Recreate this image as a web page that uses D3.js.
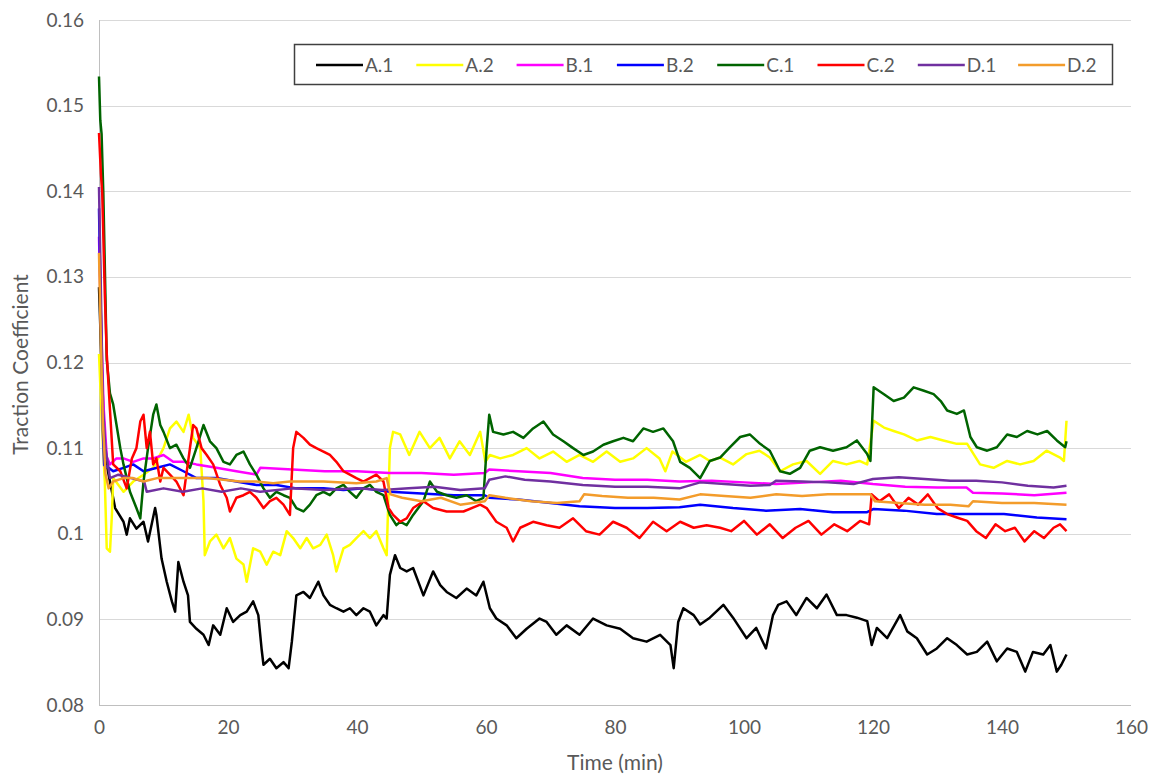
<!DOCTYPE html>
<html>
<head>
<meta charset="utf-8">
<script src="https://cdn.jsdelivr.net/npm/d3@7/dist/d3.min.js"></script>
<style>
  html, body { margin: 0; padding: 0; background: #ffffff; }
  svg text { font-family: Lato, "Open Sans", sans-serif; fill: #595959; }
</style>
</head>
<body>
<svg id="chart" width="1155" height="778"></svg>
<script>
// ---- data: [time (min), traction coefficient] ----
const seriesNames = ["A.1", "A.2", "B.1", "B.2", "C.1", "C.2", "D.1", "D.2"];
const seriesColors = ["#000000", "#ffff00", "#ff00ff", "#0000ff", "#006400", "#ff0000", "#7030a0", "#f39c2b"];

const xTicks = [0, 20, 40, 60, 80, 100, 120, 140, 160];
const yTicks = [0.08, 0.09, 0.10, 0.11, 0.12, 0.13, 0.14, 0.15, 0.16];
const yTickLabels = ["0.08", "0.09", "0.1", "0.11", "0.12", "0.13", "0.14", "0.15", "0.16"];

const A1 = [[0,0.1288],[0.3,0.122],[0.8,0.112],[1.2,0.108],[1.7,0.1061],[2.5,0.1030],[3.8,0.1014],[4.3,0.0999],[4.8,0.1018],[5.8,0.1006],[6.9,0.1014],[7.6,0.0991],[8.7,0.1030],[8.9,0.1022],[9.7,0.0971],[10.5,0.0944],[11.3,0.0921],[11.8,0.0909],[12.3,0.0967],[13.1,0.0944],[13.8,0.0928],[14.1,0.0897],[15.1,0.0889],[16.2,0.0882],[17,0.0870],[17.7,0.0893],[18.8,0.0882],[19.8,0.0913],[20.8,0.0897],[21.9,0.0905],[22.9,0.0909],[23.9,0.0921],[24.7,0.0905],[25.2,0.0866],[25.5,0.0847],[26.5,0.0854],[27.5,0.0843],[28.6,0.0850],[29.4,0.0843],[29.9,0.0874],[30.6,0.0928],[31.7,0.0932],[32.7,0.0925],[34,0.0944],[34.8,0.0928],[35.8,0.0917],[36.8,0.0913],[37.9,0.0909],[38.9,0.0913],[39.9,0.0905],[41,0.0913],[42,0.0909],[43,0.0893],[44.1,0.0905],[44.6,0.0901],[45.1,0.0952],[45.9,0.0975],[46.7,0.0960],[47.7,0.0956],[48.7,0.0960],[50.3,0.0928],[51.8,0.0956],[52.9,0.0940],[53.9,0.0932],[55.4,0.0925],[57,0.0936],[58.5,0.0928],[59.6,0.0944],[60.6,0.0913],[61.6,0.0901],[63.2,0.0893],[64.7,0.0878],[66.3,0.0889],[68.3,0.0901],[69.4,0.0897],[70.9,0.0882],[72.5,0.0893],[74.5,0.0882],[76.6,0.0901],[78.7,0.0893],[80.8,0.0889],[82.8,0.0878],[84.9,0.0874],[87,0.0882],[88.6,0.0870],[89.1,0.0843],[89.8,0.0897],[90.6,0.0913],[92.2,0.0905],[93.2,0.0894],[94.7,0.0902],[96.8,0.0917],[98.3,0.0902],[100.4,0.0878],[101.9,0.0890],[103.4,0.0866],[104.5,0.0905],[105.3,0.0917],[106.6,0.0921],[108.1,0.0905],[109.7,0.0925],[111.3,0.0913],[112.8,0.0929],[114.4,0.0905],[115.9,0.0905],[117.5,0.0902],[119.1,0.0898],[119.8,0.0870],[120.6,0.0890],[122.2,0.0878],[124.2,0.0905],[125.3,0.0886],[126.8,0.0878],[128.4,0.0859],[129.9,0.0866],[131.5,0.0878],[133,0.0870],[134.6,0.0859],[136.1,0.0862],[137.7,0.0874],[139.2,0.0851],[140.8,0.0866],[142.3,0.0862],[143.6,0.0839],[144.8,0.0862],[146.4,0.0859],[147.5,0.0870],[148.5,0.0839],[149.2,0.0847],[150,0.0859]];

const A2 = [[0,0.121],[0.5,0.112],[0.9,0.1061],[1.2,0.0983],[1.7,0.0979],[2.0,0.1022],[2.2,0.1065],[3.8,0.1049],[5.3,0.1061],[6.9,0.1069],[8.4,0.1077],[10,0.1100],[11,0.1123],[12,0.1131],[13.1,0.1119],[13.9,0.1139],[14.6,0.1112],[15.7,0.1100],[16.2,0.1038],[16.4,0.0975],[17.2,0.0991],[18.2,0.0999],[19.3,0.0983],[20.3,0.0995],[21.3,0.0971],[22.4,0.0964],[22.9,0.0944],[23.9,0.0983],[25,0.0979],[26,0.0964],[27,0.0979],[28.1,0.0975],[29.1,0.1003],[30.1,0.0995],[31.2,0.0983],[32.2,0.0995],[33.2,0.0983],[34.3,0.0987],[35.3,0.0999],[36.3,0.0975],[36.8,0.0956],[37.9,0.0983],[38.9,0.0987],[39.9,0.0995],[41,0.1003],[42,0.0995],[43,0.1003],[44.1,0.0983],[44.6,0.0975],[45.1,0.1100],[45.6,0.1119],[46.7,0.1116],[48.1,0.1092],[49.7,0.1119],[51.3,0.1100],[52.8,0.1112],[54.4,0.1088],[55.9,0.1108],[57.5,0.1092],[59.1,0.1119],[59.9,0.1084],[60.6,0.1092],[62.2,0.1088],[64.2,0.1092],[66.3,0.1100],[68.3,0.1088],[70.4,0.1096],[72.5,0.1084],[74.5,0.1092],[76.6,0.1084],[78.7,0.1096],[80.8,0.1084],[82.8,0.1088],[84.9,0.1100],[86.9,0.1088],[87.8,0.1073],[88.9,0.1096],[91,0.1084],[93.2,0.1092],[94.7,0.1085],[96.3,0.1089],[98.3,0.1081],[100.4,0.1093],[102.4,0.1097],[104,0.1089],[105.6,0.1073],[107.6,0.1081],[109.7,0.1085],[111.8,0.1070],[113.8,0.1085],[115.9,0.1081],[117.9,0.1085],[119.1,0.1081],[120.1,0.1132],[121.7,0.1124],[123.2,0.1120],[124.8,0.1116],[126.8,0.1109],[128.9,0.1113],[130.9,0.1109],[133,0.1105],[134.6,0.1105],[136.6,0.1081],[138.7,0.1077],[140.8,0.1085],[142.8,0.1081],[144.9,0.1085],[146.9,0.1097],[149,0.1089],[149.6,0.1085],[150,0.1132]];

const B1 = [[0,0.1347],[0.3,0.125],[0.7,0.115],[1.2,0.109],[1.7,0.1081],[2.7,0.1088],[3.8,0.1088],[5.3,0.1084],[6.9,0.1088],[8.4,0.1088],[10,0.1092],[11.5,0.1084],[13.1,0.1084],[15.1,0.1081],[18.2,0.1077],[21.3,0.1073],[24.4,0.1069],[25,0.1077],[30,0.1075],[35,0.1073],[40,0.1073],[45,0.1071],[50,0.1071],[55,0.1069],[59.8,0.1071],[60.5,0.1075],[65,0.1073],[70,0.1071],[75,0.1065],[80,0.1063],[85,0.1063],[90,0.1061],[95,0.1062],[100,0.1060],[105,0.1058],[110,0.1060],[115,0.1062],[120,0.1058],[125,0.1055],[130,0.1054],[134.5,0.1054],[135.5,0.1048],[140,0.1047],[145,0.1045],[150,0.1048]];

const B2 = [[0,0.138],[0.3,0.125],[0.6,0.112],[0.8,0.108],[1.5,0.1077],[2.2,0.1073],[3.8,0.1077],[5.3,0.1081],[6.9,0.1073],[9,0.1077],[11,0.1081],[13.1,0.1073],[15.1,0.1065],[18.2,0.1065],[21.3,0.1061],[24.4,0.1057],[27.5,0.1057],[30.6,0.1053],[34.8,0.1053],[37.9,0.1051],[41,0.1053],[45.1,0.1049],[50,0.1047],[55,0.1045],[59.8,0.1045],[60.5,0.1042],[65,0.1040],[70,0.1036],[74.5,0.1032],[80,0.1030],[85,0.1030],[90,0.1031],[93.2,0.1034],[98.3,0.1030],[103.4,0.1027],[108.7,0.1029],[113.8,0.1025],[119,0.1025],[120.1,0.1029],[124.8,0.1027],[129.9,0.1023],[135.1,0.1023],[140.3,0.1023],[145.4,0.1019],[150,0.1017]];

const C1 = [[0,0.1534],[0.2,0.1483],[0.4,0.1467],[0.67,0.1398],[1.2,0.1203],[1.7,0.1164],[2.2,0.1151],[3.3,0.1100],[3.8,0.1081],[4.8,0.1049],[5.8,0.1030],[6.4,0.1018],[6.9,0.1061],[7.6,0.1100],[8.4,0.1139],[8.9,0.1151],[9.5,0.1127],[10,0.1119],[11,0.1100],[12,0.1104],[13.1,0.1088],[14.1,0.1077],[15.1,0.1100],[16.2,0.1127],[17.2,0.1108],[18.2,0.1100],[19.3,0.1084],[20.3,0.1081],[21.3,0.1092],[22.4,0.1096],[23.4,0.1081],[24.4,0.1069],[25.5,0.1053],[26.5,0.1042],[27.5,0.1049],[28.6,0.1045],[29.6,0.1042],[30.6,0.1030],[31.7,0.1026],[32.7,0.1034],[33.7,0.1045],[34.8,0.1049],[35.8,0.1045],[36.8,0.1053],[37.9,0.1057],[38.9,0.1049],[39.9,0.1042],[41,0.1053],[42,0.1057],[43,0.1049],[44.1,0.1045],[45.1,0.1022],[46.1,0.1010],[46.7,0.1014],[47.7,0.1010],[48.7,0.1022],[50.3,0.1038],[51.3,0.1061],[52.4,0.1049],[53.9,0.1045],[55.4,0.1042],[57,0.1045],[58.5,0.1038],[59.6,0.1042],[60.1,0.1100],[60.5,0.1139],[61.1,0.1119],[62.7,0.1116],[64.2,0.1119],[65.8,0.1112],[67.3,0.1123],[68.9,0.1131],[70.4,0.1116],[72,0.1108],[73.5,0.1100],[75.1,0.1092],[76.6,0.1096],[78.2,0.1104],[79.7,0.1108],[81.3,0.1112],[82.8,0.1108],[84.4,0.1123],[85.9,0.1119],[87.5,0.1123],[89,0.1108],[90.1,0.1084],[91.6,0.1077],[93.2,0.1065],[94.7,0.1085],[96.3,0.1089],[97.8,0.1101],[99.4,0.1113],[100.9,0.1116],[102.5,0.1105],[104,0.1097],[105.6,0.1073],[107.1,0.1070],[108.7,0.1077],[110.2,0.1097],[111.8,0.1101],[113.8,0.1097],[115.9,0.1101],[117.5,0.1109],[119.1,0.1093],[119.6,0.1085],[120.1,0.1171],[121.7,0.1163],[123.2,0.1155],[124.8,0.1159],[126.3,0.1171],[127.9,0.1167],[129.4,0.1163],[130.5,0.1155],[131.5,0.1144],[133,0.1140],[134.1,0.1144],[135.1,0.1113],[136.1,0.1101],[137.7,0.1097],[139.2,0.1101],[140.8,0.1116],[142.3,0.1113],[143.9,0.1120],[145.5,0.1116],[147,0.1120],[148.5,0.1109],[149.8,0.1101],[150,0.1108]];

const C2 = [[0,0.1468],[0.3,0.1420],[0.5,0.1398],[0.9,0.128],[1.2,0.121],[1.7,0.1145],[2.2,0.1081],[3.3,0.1073],[4.3,0.1053],[5.1,0.1088],[5.8,0.1100],[6.4,0.1131],[6.9,0.1139],[7.4,0.1100],[7.9,0.1119],[8.4,0.1081],[8.9,0.1088],[9.5,0.1061],[10,0.1077],[11,0.1069],[12,0.1061],[13.1,0.1045],[14.1,0.1100],[14.6,0.1127],[15.1,0.1123],[15.9,0.1100],[16.7,0.1092],[17.7,0.1081],[18.8,0.1057],[19.8,0.1042],[20.3,0.1026],[21.3,0.1042],[22.4,0.1045],[23.4,0.1049],[24.4,0.1042],[25.5,0.1030],[26.5,0.1038],[27.5,0.1042],[28.6,0.1034],[29.6,0.1022],[30.1,0.1100],[30.6,0.1119],[31.7,0.1112],[32.7,0.1104],[33.7,0.1100],[34.8,0.1096],[35.8,0.1092],[36.8,0.1084],[37.9,0.1073],[38.9,0.1069],[39.9,0.1065],[41,0.1061],[42,0.1065],[43,0.1069],[44.1,0.1061],[44.9,0.1030],[45.6,0.1022],[46.7,0.1014],[47.7,0.1018],[48.7,0.1030],[50.3,0.1038],[51.8,0.1030],[53.9,0.1026],[56.5,0.1026],[59.1,0.1034],[60.1,0.1030],[61.6,0.1014],[63.2,0.1007],[64.2,0.0991],[65.3,0.1007],[67.3,0.1014],[69.4,0.1010],[71.4,0.1007],[73.5,0.1018],[75.5,0.1003],[77.6,0.0999],[79.7,0.1014],[81.8,0.1007],[83.8,0.0995],[85.9,0.1014],[88,0.1003],[90.1,0.1014],[92.2,0.1007],[94.2,0.1010],[96.3,0.1007],[98,0.1003],[100,0.1015],[102,0.0999],[104,0.1011],[106,0.0995],[108,0.1007],[110,0.1015],[112,0.0999],[114,0.1011],[116,0.1003],[118,0.1015],[119.4,0.1011],[119.8,0.1046],[121,0.1038],[122.5,0.1046],[124,0.1030],[125.5,0.1042],[127,0.1034],[128.5,0.1046],[130,0.1030],[131.5,0.1023],[133,0.1019],[134.6,0.1015],[136,0.1003],[137.5,0.0995],[139,0.1011],[140.5,0.1003],[142,0.1007],[143.5,0.0991],[145,0.1003],[146.5,0.0995],[148,0.1007],[149,0.1011],[150,0.1003]];

const D1 = [[0,0.1405],[0.3,0.128],[0.6,0.115],[1,0.110],[1.7,0.1065],[3,0.1069],[5,0.1065],[7,0.1061],[7.4,0.1049],[10,0.1053],[13,0.1049],[16,0.1053],[19,0.1049],[22,0.1053],[25,0.1049],[30,0.1053],[35,0.1051],[40,0.1053],[44,0.1051],[48,0.1053],[52,0.1055],[56,0.1051],[59.8,0.1053],[60.5,0.1063],[63,0.1067],[66,0.1063],[70,0.1061],[75,0.1057],[80,0.1055],[85,0.1055],[90,0.1053],[93.2,0.1060],[97,0.1058],[101,0.1056],[104,0.1057],[105,0.1062],[109,0.1061],[113,0.1060],[117,0.1058],[120,0.1064],[124,0.1066],[128,0.1064],[132,0.1062],[136,0.1062],[140,0.1060],[144,0.1056],[148,0.1054],[150,0.1056]];

const D2 = [[0,0.1328],[0.3,0.122],[0.6,0.113],[1,0.107],[1.5,0.1053],[2.2,0.1061],[3.8,0.1065],[5.3,0.1065],[6.9,0.1061],[9,0.1065],[11.5,0.1065],[14,0.1065],[16.7,0.1065],[19.3,0.1063],[21.8,0.1061],[24.4,0.1061],[27,0.1059],[29.6,0.1061],[34.8,0.1061],[39.9,0.1059],[43,0.1061],[44.6,0.1065],[45.2,0.1046],[47,0.1042],[50,0.1038],[53,0.1042],[56,0.1034],[59.8,0.1038],[60.5,0.1045],[63,0.1042],[67,0.1038],[71,0.1036],[74.5,0.1038],[75.2,0.1046],[78,0.1044],[82,0.1042],[86,0.1042],[90,0.1040],[93.2,0.1046],[97,0.1044],[101,0.1042],[105,0.1046],[109,0.1044],[113,0.1046],[117,0.1046],[119.6,0.1046],[120.3,0.1038],[124,0.1036],[128,0.1034],[132,0.1034],[134.8,0.1032],[135.5,0.1038],[140,0.1036],[145,0.1036],[150,0.1034]];

const seriesData = [A1, A2, B1, B2, C1, C2, D1, D2];

// ---- layout ----
const svg = d3.select("#chart");
const plotLeft = 99, plotRight = 1131, plotTop = 20, plotBottom = 705;
const x = d3.scaleLinear().domain([0, 160]).range([plotLeft, plotRight]);
const y = d3.scaleLinear().domain([0.08, 0.16]).range([plotBottom, plotTop]);

// gridlines
svg.append("g")
  .selectAll("line").data(yTicks).join("line")
  .attr("x1", plotLeft).attr("x2", plotRight)
  .attr("y1", d => Math.round(y(d)) + 0.5).attr("y2", d => Math.round(y(d)) + 0.5)
  .attr("stroke", d => d === 0.08 ? "#bfbfbf" : "#d9d9d9").attr("stroke-width", 1);
// vertical axis line
svg.append("line")
  .attr("x1", plotLeft + 0.5).attr("x2", plotLeft + 0.5).attr("y1", plotTop).attr("y2", plotBottom)
  .attr("stroke", "#bfbfbf").attr("stroke-width", 1);

// y axis labels
const yAxis = d3.axisLeft(y).tickValues(yTicks).tickSize(0).tickPadding(15)
  .tickFormat((d, i) => yTickLabels[i]);
const gy = svg.append("g").attr("transform", `translate(${plotLeft},0)`).call(yAxis);
gy.select(".domain").remove();
gy.selectAll("text").style("font-size", "19px").attr("fill", "#595959").style("font-family", "Lato, 'Open Sans', sans-serif");

// x axis labels
const xAxis = d3.axisBottom(x).tickValues(xTicks).tickSize(0).tickPadding(16).tickFormat(d3.format("d"));
const gx = svg.append("g").attr("transform", `translate(0,${plotBottom})`).call(xAxis);
gx.select(".domain").remove();
gx.selectAll("text").style("font-size", "19px").attr("fill", "#595959").style("font-family", "Lato, 'Open Sans', sans-serif");

// axis titles
svg.append("text").attr("x", (plotLeft + plotRight) / 2).attr("y", 770)
  .attr("text-anchor", "middle").style("font-size", "21px").text("Time (min)");
svg.append("text")
  .attr("transform", `translate(28,${(plotTop + plotBottom) / 2 + 2}) rotate(-90)`)
  .attr("text-anchor", "middle").style("font-size", "21px").text("Traction Coefficient");

// series lines
const line = d3.line().x(d => x(d[0])).y(d => y(d[1])).curve(d3.curveLinear);
const plot = svg.append("g");
seriesData.forEach((data, i) => {
  plot.append("path").datum(data)
    .attr("fill", "none")
    .attr("stroke", seriesColors[i])
    .attr("stroke-width", 2.5)
    .attr("stroke-linejoin", "round")
    .attr("d", line);
});

// legend
const lg = svg.append("g");
lg.append("rect").attr("x", 294.5).attr("y", 44.5).attr("width", 818).attr("height", 40)
  .attr("fill", "#ffffff").attr("stroke", "#404040").attr("stroke-width", 1.5);
const step = 100.3;
seriesNames.forEach((name, i) => {
  const x0 = 316 + i * step;
  lg.append("line").attr("x1", x0).attr("x2", x0 + 47).attr("y1", 65).attr("y2", 65)
    .attr("stroke", seriesColors[i]).attr("stroke-width", 2.5);
  lg.append("text").attr("x", x0 + 49).attr("y", 65).attr("dy", "0.35em")
    .style("font-size", "19px").text(name);
});
</script>
</body>
</html>
